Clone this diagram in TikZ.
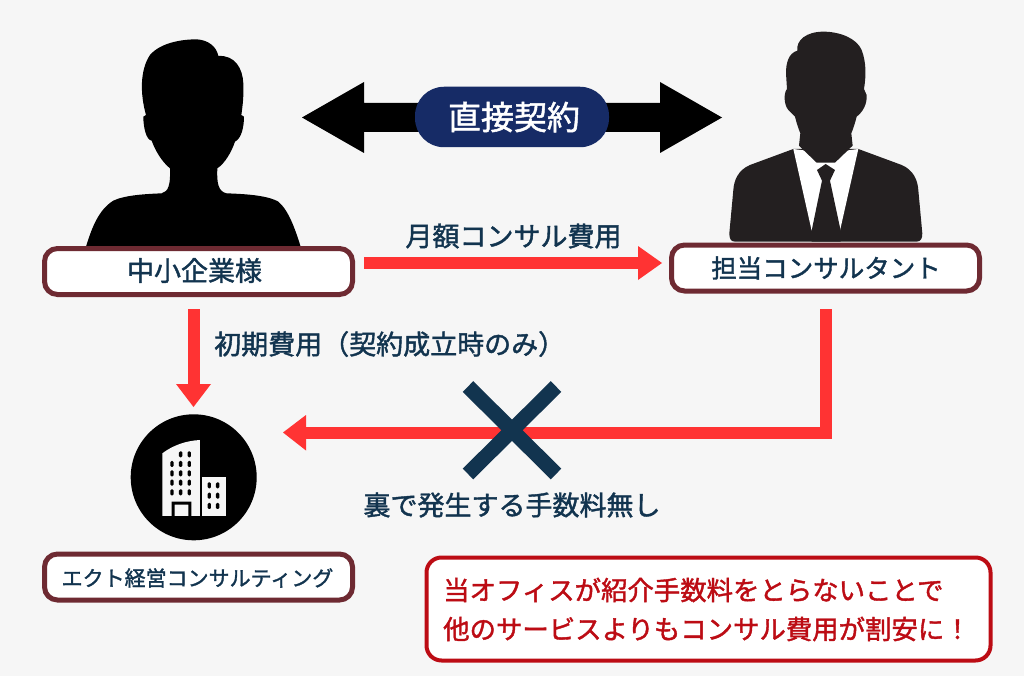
\documentclass[tikz,border=0pt]{standalone}
\usepackage{fontspec}
\setmainfont{Noto Sans CJK JP}
\newfontfamily\medfont[FakeBold=1.5]{Noto Sans CJK JP}
\definecolor{bgc}{HTML}{F6F6F6}
\definecolor{boxline}{HTML}{6E2A32}
\definecolor{navyt}{HTML}{12344F}
\definecolor{pill}{HTML}{162B66}
\definecolor{redl}{HTML}{FF3333}
\definecolor{redbox}{HTML}{BC0C14}
\definecolor{suit}{HTML}{231F20}
\tikzset{
  labelbox/.style={draw=boxline,line width=5pt,fill=white,rounded corners=13pt,minimum width=308pt,minimum height=46pt,inner sep=0pt},
  boxtext/.style={text=navyt,inner sep=0pt},
  lab/.style={text=navyt,font=\fontsize{27}{27}\selectfont\medfont,inner sep=0pt},
  redline/.style={draw=redl,line width=12pt},
  redhead/.style={fill=redl,draw=none},
  notetext/.style={anchor=west,text=redbox,font=\fontsize{26.4}{26.4}\selectfont\medfont,inner sep=0pt},
}
\begin{document}
\begin{tikzpicture}[x=1pt,y=-1pt]
\useasboundingbox (0,0) rectangle (1024,676);
\fill[bgc] (0,0) rectangle (1024,676);
% person 1
\begin{scope}[shift={(60,20)},x=0.3333pt,y=-0.3333pt]
\fill[black] (78,680) .. controls (95,625) and (115,570) .. (160,542)
 .. controls (195,525) and (260,522) .. (305,520)
 .. controls (325,515) and (332,495) .. (330,445)
 .. controls (305,425) and (285,390) .. (275,362)
 .. controls (258,360) and (250,320) .. (250,290) -- (258,285)
 .. controls (240,220) and (240,150) .. (270,105)
 .. controls (300,70) and (360,58) .. (410,58)
 .. controls (445,60) and (470,80) .. (475,108)
 .. controls (525,105) and (548,145) .. (550,190)
 .. controls (552,220) and (548,260) .. (544,285) -- (552,290)
 .. controls (552,320) and (545,355) .. (525,365)
 .. controls (515,395) and (495,430) .. (472,445)
 .. controls (470,490) and (475,515) .. (500,520)
 .. controls (550,522) and (620,525) .. (655,545)
 .. controls (685,570) and (705,625) .. (722,680) -- cycle;
\end{scope}
% person 2
\begin{scope}[shift={(660,20)},x=0.3333pt,y=-0.3333pt]
\fill[suit] (400,387) -- (270,435) .. controls (235,450) and (222,480) .. (220,510)
 -- (208,640) .. controls (208,655) and (212,665) .. (225,665) -- (770,665)
 .. controls (783,665) and (787,655) .. (787,640) -- (775,510)
 .. controls (773,480) and (760,450) .. (725,435) -- (595,387) -- cycle;
\fill[white!97!bgc] (400,387) -- (455,632) -- (540,632) -- (595,387) -- (497,400) -- cycle;
\fill[suit] (471,450) -- (497,432) -- (525,450) -- (510,482) -- (542,632) -- (542,665) -- (455,665) -- (455,632) -- (486,482) -- cycle;
\fill[suit] (490,35) .. controls (440,35) and (408,60) .. (412,92)
 .. controls (385,100) and (378,130) .. (378,160) -- (381,207)
 .. controls (370,220) and (372,255) .. (385,270)
 .. controls (395,280) and (400,285) .. (405,290)
 .. controls (410,310) and (415,325) .. (421,340) -- (417,377)
 -- (470,428) -- (525,428) -- (578,377) -- (574,340)
 .. controls (580,325) and (585,310) .. (590,290)
 .. controls (610,275) and (622,250) .. (620,225)
 -- (612,207) .. controls (618,170) and (620,130) .. (605,90)
 .. controls (590,55) and (540,35) .. (490,35) -- cycle;
\end{scope}
% double arrow
\coordinate (dl) at (302,117.5);
\coordinate (dr) at (722,117.5);
\fill[black] (dl) -- (364,82) -- (364,103) -- (660,103) -- (660,82) -- (dr) -- (660,153) -- (660,132) -- (364,132) -- (364,153) -- cycle;
\node[fill=pill,rounded corners=29pt,minimum width=194pt,minimum height=60.5pt,inner sep=0pt] (pillnode) at (512,117) {};
\node[text=white,font=\fontsize{33}{33}\selectfont\medfont,inner sep=0pt] (pilltext) at (514,117) {直接契約};
% boxes
\node[labelbox] (client) at (198.5,271.5) {};
\node[boxtext,font=\fontsize{27}{27}\selectfont\medfont] (clientt) at (194.5,270.5) {中小企業様};
\node[labelbox] (cons) at (825.5,268) {};
\node[boxtext,font=\fontsize{25.5}{25.5}\selectfont\medfont] (const) at (826,268) {担当コンサルタント};
\node[labelbox] (acto) at (198.5,577) {};
\node[boxtext,font=\fontsize{21}{21}\selectfont\medfont] (actot) at (197.5,578) {エクト経営コンサルティング};
% arrows
\coordinate (a1) at (662,263);
\draw[redline] (364,263) -- (640,263);
\fill[redhead] (a1) -- (638,246) -- (638,280) -- cycle;
\coordinate (a2) at (193.5,407);
\draw[redline] (193.5,309) -- (193.5,386);
\fill[redhead] (a2) -- (176,384) -- (211,384) -- cycle;
\coordinate (a3) at (283,432.5);
\draw[redline] (826,309) -- (826,432.5) -- (304,432.5);
\fill[redhead] (a3) -- (306,415) -- (306,450.5) -- cycle;
% cross
\draw[navyt,line width=15pt] (468,386.5) -- (556,474);
\draw[navyt,line width=15pt] (556,386.5) -- (468,474);
% building
\fill[black] (193.7,477.3) circle (63);
\begin{scope}[shift={(30,400)},x=0.3333pt,y=-0.3333pt]
\fill[bgc] (397,348) -- (397,160) .. controls (430,135) and (470,122) .. (510,120) -- (510,348) -- cycle;
\fill[bgc] (517,230) rectangle (587,348);
\fill[black] (425,348) -- (425,305) -- (484,305) -- (484,348) -- (475,348) -- (475,314) -- (434,314) -- (434,348) -- cycle;
\foreach \x in {452,478} \foreach \y in {154} {\fill[black,rounded corners=1.2pt] (\x-5,\y) rectangle (\x+5,\y+18);}
\foreach \x in {426,452,478} \foreach \y in {183,211,239,268} {\fill[black,rounded corners=1.2pt] (\x-5,\y) rectangle (\x+5,\y+18);}
\foreach \x in {538,563} \foreach \y in {247,278,309} {\fill[black,rounded corners=1.2pt] (\x-5,\y) rectangle (\x+5,\y+18);}
\end{scope}
% text labels
\node[lab] (t1) at (513.5,236) {月額コンサル費用};
\node[lab,anchor=west] (t2) at (214,344) {初期費用（契約成立時のみ）};
\node[lab] (t3) at (512,505) {裏で発生する手数料無し};
% red box
\node[draw=redbox,line width=4pt,fill=white,rounded corners=15pt,minimum width=564pt,minimum height=103pt,inner sep=0pt] (note) at (708.5,609) {};
\node[notetext] (n1) at (443,590) {当オフィスが紹介手数料をとらないことで};
\node[notetext] (n2) at (443,629) {他のサービスよりもコンサル費用が割安に！};
\end{tikzpicture}
\end{document}
